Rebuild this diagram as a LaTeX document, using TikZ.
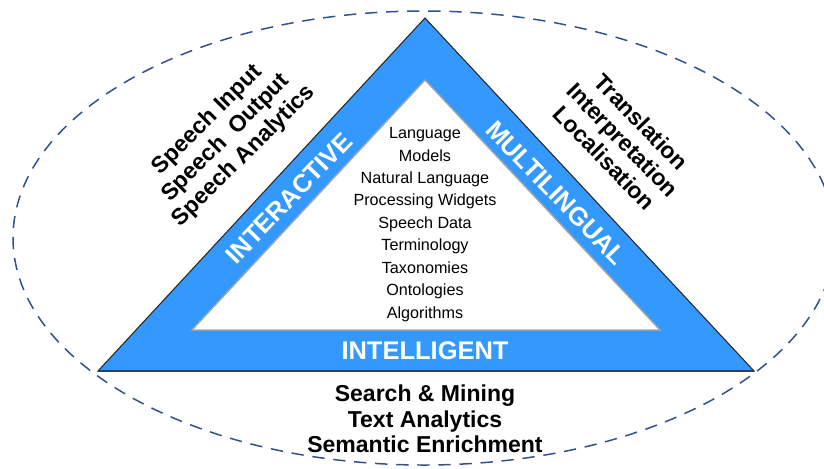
\documentclass[tikz,border=0pt]{standalone}
\usepackage{fontspec}
\setmainfont{Liberation Sans}
\definecolor{bandblue}{RGB}{51,153,255}
\definecolor{ringblue}{RGB}{47,82,143}
\definecolor{edgeblue}{RGB}{38,64,110}

\begin{document}
\begin{tikzpicture}[x=0.02cm,y=-0.02cm,
  bandtext/.style={text=white,font=\bfseries\fontsize{14.5}{17}\selectfont},
  sidetext/.style={align=center,font=\bfseries\fontsize{13.1}{14.6}\selectfont},
  coretext/.style={align=center,font=\fontsize{9.2}{12.75}\selectfont}]
\useasboundingbox (0,0) rectangle (824,468);
\clip (0,0) rectangle (824,468);
% dashed ring
\draw[ringblue,line width=0.85pt,dash pattern=on 7pt off 5pt] (424,238) ellipse (411 and 227);
% triangle
\coordinate (A) at (425,18);
\coordinate (B) at (98,371);
\coordinate (C) at (754,371);
\coordinate (a) at (425,80);
\coordinate (b) at (192,330);
\coordinate (c) at (660,330);
\filldraw[fill=bandblue,draw=black!85,line width=0.6pt] (A) -- (B) -- (C) -- cycle;
\draw[edgeblue,line width=1pt] (B) -- (C);
\filldraw[fill=white,draw=black!35,line width=0.8pt] (a) -- (b) -- (c) -- cycle;
% band labels
\node[bandtext,rotate=46] (interactive) at (289,198) {INTERACTIVE};
\node[bandtext,rotate=-46] (multilingual) at (556,193) {MULTILINGUAL};
\node[bandtext] (intelligent) at (425,351) {INTELLIGENT};
% inner list
\node[coretext] (core) at (425,224.5) {Language\\Models\\Natural Language\\Processing Widgets\\Speech Data\\Terminology\\Taxonomies\\Ontologies\\Algorithms};
% outer labels
\node[sidetext,rotate=45] (speech) at (226,138) {Speech Input\\Speech~~Output\\Speech Analytics};
\node[sidetext,rotate=-46] (translation) at (623,140) {Translation\\Interpretation\\Localisation};
\node[sidetext] (search) at (425,419) {Search \& Mining\\Text Analytics\\Semantic Enrichment};
\end{tikzpicture}
\end{document}
